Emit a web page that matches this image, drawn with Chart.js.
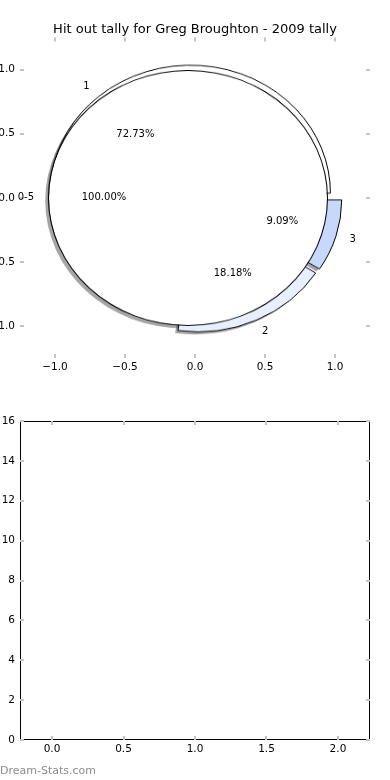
<!DOCTYPE html>
<html>
<head>
<meta charset="utf-8">
<script src="https://cdn.jsdelivr.net/npm/chart.js@4.4.0/dist/chart.umd.min.js"></script>
<style>
html, body { margin: 0; padding: 0; background: #fff; }
#page { position: relative; width: 390px; height: 780px; overflow: hidden; }
canvas { position: absolute; left: 0; top: 0; }
#pieWrap { position: absolute; left: 45px; top: 48px; width: 300px; height: 300px;
  transform: scaleY(0.9143); transform-origin: 50% 50%; }
#pieWrap canvas { width: 300px; height: 300px; }
#topAxes { width: 390px; height: 380px; }
#bottomAxes { top: 390px; width: 390px; height: 390px; }
#mark { position: absolute; left: 0; top: 764px; font: 11px 'DejaVu Sans'; color: #8c8c8c; }
</style>
</head>
<body>
<div id="page">
  <div id="pieWrap"></div>
  <canvas id="topAxes" width="390" height="380"></canvas>
  <canvas id="bottomAxes" width="390" height="390"></canvas>
  <div id="mark">Dream-Stats.com</div>
</div>
<script>
// hit outs per game, grouped by tally
const chartTitle = 'Hit out tally for Greg Broughton - 2009 tally';
const tallyLabels = ['1', '2', '3'];
const hitOuts = [8, 2, 1];
const bandLabels = ['0-5'];
const bandTotals = [11];

const pieTicks = [-1.0, -0.5, 0.0, 0.5, 1.0];
const lowerXTicks = [0.0, 0.5, 1.0, 1.5, 2.0];
const lowerYTicks = [0, 2, 4, 6, 8, 10, 12, 14, 16];

const wedgeFills = ['#ffffff', '#e8effd', '#c6d9fc'];
const explode = 0.05;
const shadowShift = -0.02;
const R = 140; // pie radius in px before the vertical squash

Chart.defaults.font.family = "'DejaVu Sans', sans-serif";
Chart.defaults.color = '#000';

const fmt1 = v => (v < 0 ? '\u2212' : '') + Math.abs(v).toFixed(1);
const noPlugins = { legend: { display: false }, tooltip: { enabled: false } };

function midAngles(vals) {
  const total = vals.reduce((s, v) => s + v, 0);
  let start = 0;
  return vals.map(v => {
    const m = (start + v / 2) / total * 2 * Math.PI;
    start += v;
    return m;
  });
}

// shift the pie centre by (dx, dy) data units using layout padding
function padFor(dx, dy) {
  const px = dx * R, py = -dy * R;
  return { left: Math.max(0, 2 * px), right: Math.max(0, -2 * px),
           top: Math.max(0, 2 * py), bottom: Math.max(0, -2 * py) };
}

const wrap = document.getElementById('pieWrap');
function drawPie(labels, datasets, dx, dy) {
  const c = document.createElement('canvas');
  c.width = 300; c.height = 300;
  wrap.appendChild(c);
  return new Chart(c, {
    type: 'pie',
    data: { labels, datasets },
    options: {
      responsive: false, animation: false, events: [],
      rotation: 90, radius: R,            // start at 3 o'clock like matplotlib
      layout: { padding: padFor(dx, dy) },
      plugins: noPlugins
    }
  });
}

// chart.js goes clockwise, matplotlib counter clockwise
const cwValues = hitOuts.slice().reverse();
const cwLabels = tallyLabels.slice().reverse();
const mids = midAngles(hitOuts);
const bandMid = midAngles(bandTotals)[0];
const clear = 'rgba(0,0,0,0)';
const only = (j, col) => cwValues.map((_, k) => (k === j ? col : clear));

// shadows first, below everything
drawPie(bandLabels, [{ data: bandTotals, backgroundColor: 'rgba(77,77,77,0.5)', borderWidth: 0 }],
  explode * Math.cos(bandMid) + shadowShift, explode * Math.sin(bandMid) + shadowShift);
hitOuts.forEach((v, i) => {
  const j = cwValues.length - 1 - i;
  drawPie(cwLabels, [{ data: cwValues, backgroundColor: only(j, 'rgba(70,72,78,0.5)'), borderWidth: 0 }],
    explode * Math.cos(mids[i]) + shadowShift, explode * Math.sin(mids[i]) + shadowShift);
});
// exploded wedges
hitOuts.forEach((v, i) => {
  const j = cwValues.length - 1 - i;
  drawPie(cwLabels, [{ data: cwValues, backgroundColor: only(j, wedgeFills[i]),
    borderColor: only(j, '#000'), borderWidth: 1 }],
    explode * Math.cos(mids[i]), explode * Math.sin(mids[i]));
});
// the 0-5 band pie on top: thin black ring plus white disc
drawPie(bandLabels, [
  { data: bandTotals, backgroundColor: '#000', borderWidth: 0, weight: 1 },
  { data: bandTotals, backgroundColor: '#fff', borderWidth: 0, weight: 139 }
], explode * Math.cos(bandMid), explode * Math.sin(bandMid));

// small inward tick marks on all four sides
const tickMarks = {
  id: 'tickMarks',
  afterDraw(chart, args, opts) {
    const { ctx, chartArea: a, scales: { x, y } } = chart;
    ctx.save();
    if (opts.frame) {
      ctx.strokeStyle = '#000';
      ctx.lineWidth = 1;
      ctx.strokeRect(a.left + 0.5, a.top + 0.5, a.right - a.left - 1, a.bottom - a.top - 1);
    }
    ctx.strokeStyle = '#c4c4c4';
    ctx.lineWidth = 2;
    ctx.beginPath();
    x.ticks.forEach(t => {
      const px = Math.round(x.getPixelForValue(t.value));
      ctx.moveTo(px, a.bottom); ctx.lineTo(px, a.bottom - 4);
      ctx.moveTo(px, a.top); ctx.lineTo(px, a.top + 4);
    });
    y.ticks.forEach(t => {
      const py = Math.round(y.getPixelForValue(t.value));
      ctx.moveTo(a.left, py); ctx.lineTo(a.left + 4, py);
      ctx.moveTo(a.right, py); ctx.lineTo(a.right - 4, py);
    });
    ctx.stroke();
    ctx.restore();
  }
};

// matplotlib style wedge labels and percentages
const pieLabels = {
  id: 'pieLabels',
  afterDraw(chart) {
    const { ctx, scales: { x, y } } = chart;
    ctx.save();
    ctx.font = "10px 'DejaVu Sans'";
    ctx.fillStyle = '#000';
    ctx.textBaseline = 'middle';
    const put = (vals, labels) => {
      const total = vals.reduce((s, v) => s + v, 0);
      midAngles(vals).forEach((mid, i) => {
        const cx = explode * Math.cos(mid), cy = explode * Math.sin(mid);
        const lx = cx + 1.1 * Math.cos(mid), ly = cy + 1.1 * Math.sin(mid);
        ctx.textAlign = lx > 0 ? 'left' : 'right';
        ctx.fillText(labels[i], x.getPixelForValue(lx), y.getPixelForValue(ly));
        const px = cx + 0.6 * Math.cos(mid), py = cy + 0.6 * Math.sin(mid);
        ctx.textAlign = 'center';
        ctx.fillText((vals[i] / total * 100).toFixed(2) + '%', x.getPixelForValue(px), y.getPixelForValue(py));
      });
    };
    put(hitOuts, tallyLabels);
    put(bandTotals, bandLabels);
    ctx.restore();
  }
};

const axisTicks = (values, fmt, pad) => ({
  afterBuildTicks: s => { s.ticks = values.map(v => ({ value: v })); },
  grid: { display: false, drawTicks: false }, border: { display: false },
  ticks: { padding: pad, font: { size: 10.5 }, color: '#000', callback: fmt, maxRotation: 0 }
});

// empty right axis, only there to keep the title centred on the page
const spacer = {
  position: 'right', min: 0, max: 1,
  grid: { display: false, drawTicks: false }, border: { display: false },
  ticks: { display: false }, afterFit: s => { s.width = 20; }
};

new Chart(document.getElementById('topAxes'), {
  type: 'scatter',
  data: { datasets: [{ data: [] }] },
  options: {
    responsive: false, animation: false, events: [],
    layout: { padding: 0 },
    plugins: {
      legend: { display: false }, tooltip: { enabled: false },
      title: { display: true, text: chartTitle, color: '#000',
        font: { size: 13, weight: 'normal' }, padding: { top: 22, bottom: 0 } },
      tickMarks: { frame: false }
    },
    scales: {
      x: { type: 'linear', min: -1.25, max: 1.25, ...axisTicks(pieTicks, fmt1, 3),
        afterFit: s => { s.height = 22; } },
      y: { type: 'linear', min: -1.25, max: 1.25, ...axisTicks(pieTicks, fmt1, 5),
        afterFit: s => { s.width = 20; } },
      y2: spacer
    }
  },
  plugins: [tickMarks, pieLabels]
});

new Chart(document.getElementById('bottomAxes'), {
  type: 'scatter',
  data: { datasets: [{ data: [] }] },
  options: {
    responsive: false, animation: false, events: [],
    layout: { padding: { left: 0, right: 20, top: 31, bottom: 0 } },
    plugins: { legend: { display: false }, tooltip: { enabled: false }, tickMarks: { frame: true } },
    scales: {
      x: { type: 'linear', min: -0.224, max: 2.224, ...axisTicks(lowerXTicks, fmt1, 3),
        afterFit: s => { s.height = 40; } },
      y: { type: 'linear', min: 0, max: 16, ...axisTicks(lowerYTicks, v => String(v), 5),
        afterFit: s => { s.width = 20; } }
    }
  },
  plugins: [tickMarks]
});
</script>
</body>
</html>
